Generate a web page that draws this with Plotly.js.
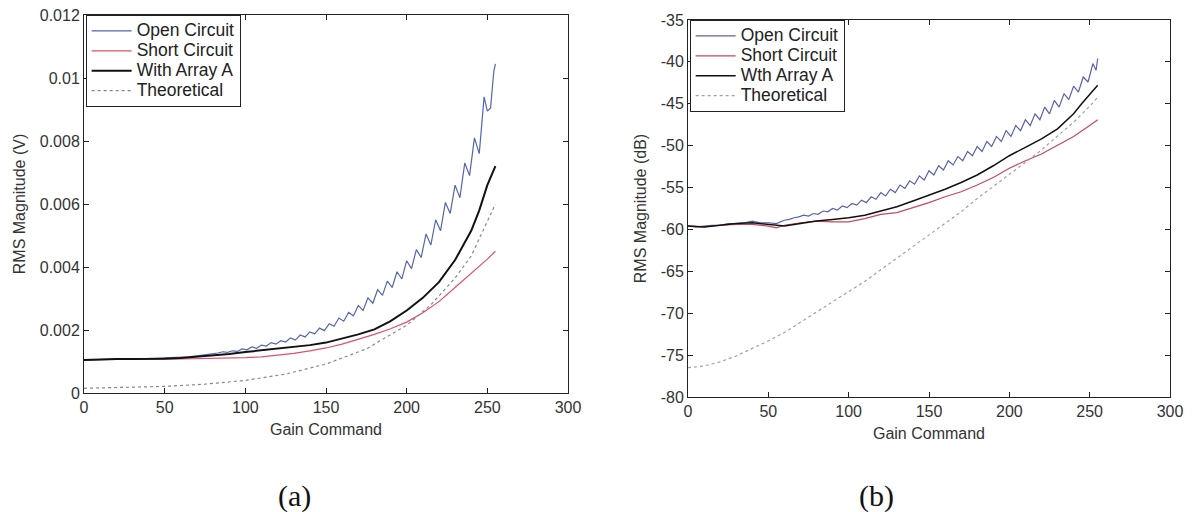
<!DOCTYPE html>
<html>
<head>
<meta charset="utf-8">
<script src="https://cdn.plot.ly/plotly-3.0.1.min.js"></script>
<style>html,body{margin:0;padding:0;background:#fff;}#chart{width:1198px;height:512px;}</style>
</head>
<body>
<div id="chart"></div>
<script>
// ---------- Panel (a): RMS magnitude in volts ----------
const openX_a = [0,5,10,15,20,25,30,35,40,45,50,55,60,65,70,75,80,83,86,89,92,95,98,101,104,107,110,113,116,119,122,125,128,131,134,137,140,143,146,149,152,155,158,161,164,167,170,173,176,179,182,185,188,191,194,197,200,203,206,209,212,215,218,221,224,227,230,233,236,239,242,245,248,250,252,254,255];
const openY_a = [0.00105,0.00106,0.00107,0.00107,0.00108,0.00108,0.00108,0.00109,0.00109,0.00109,0.00110,0.00111,0.00113,0.00115,0.00118,0.00121,0.00124,0.00127,0.00131,0.00129,0.00134,0.00132,0.00140,0.00137,0.00146,0.00142,0.00152,0.00149,0.00160,0.00155,0.00166,0.00162,0.00175,0.00168,0.00184,0.00178,0.00194,0.00188,0.00206,0.00198,0.00220,0.00212,0.00238,0.00228,0.00256,0.00245,0.00278,0.00262,0.00302,0.00285,0.00328,0.00310,0.00355,0.00335,0.00385,0.00362,0.00420,0.00395,0.00455,0.00430,0.00505,0.00470,0.00550,0.00515,0.00605,0.00570,0.00660,0.00620,0.00730,0.00690,0.00810,0.00760,0.00940,0.00895,0.00905,0.01020,0.01045];

const shortX_a = [0,20,40,60,80,90,100,110,120,130,140,150,160,170,180,190,200,210,220,230,240,245,250,255];
const shortY_a = [0.00105,0.00107,0.00108,0.00108,0.00109,0.00110,0.00112,0.00115,0.00120,0.00126,0.00134,0.00143,0.00155,0.00170,0.00186,0.00204,0.00225,0.00255,0.00290,0.00335,0.00380,0.00400,0.00425,0.00450];

const arrayX_a = [0,10,20,30,40,50,60,70,80,90,100,110,120,130,140,150,160,170,180,190,200,210,220,230,240,245,250,255];
const arrayY_a = [0.00105,0.00107,0.00108,0.00108,0.00108,0.00109,0.00111,0.00115,0.00119,0.00124,0.00130,0.00135,0.00140,0.00146,0.00152,0.00160,0.00172,0.00186,0.00202,0.00228,0.00262,0.00302,0.00352,0.00422,0.00515,0.00580,0.00660,0.00720];

const theoX_a = [0,25,50,75,100,125,150,175,200,215,230,240,250,255];
const theoY_a = [0.00015,0.00017,0.00021,0.00028,0.00040,0.00060,0.00092,0.00140,0.00215,0.00280,0.00365,0.00435,0.00545,0.00600];

const yTicks_a = [0,0.002,0.004,0.006,0.008,0.01,0.012];
const yTickText_a = ["0","0.002","0.004","0.006","0.008","0.01","0.012"];

// ---------- Panel (b): RMS magnitude in dB ----------
const openX_b = [0,5,10,15,20,25,30,35,40,45,50,55,60,63,66,69,72,75,78,81,84,87,90,93,96,99,102,105,108,111,114,117,120,123,126,129,132,135,138,141,144,147,150,153,156,159,162,165,168,171,174,177,180,183,186,189,192,195,198,201,204,207,210,213,216,219,222,225,228,231,234,237,240,243,246,249,252,254,255];
const openY_b = [-59.6,-59.7,-59.6,-59.5,-59.5,-59.3,-59.3,-59.2,-59.0,-59.2,-59.2,-59.3,-58.9,-58.8,-58.6,-58.5,-58.3,-58.4,-58.1,-58.2,-57.8,-57.9,-57.5,-57.7,-57.2,-57.4,-56.9,-57.1,-56.5,-56.8,-56.1,-56.4,-55.6,-56.0,-55.2,-55.6,-54.7,-55.1,-54.2,-54.6,-53.6,-54.1,-53.0,-53.5,-52.4,-52.9,-51.8,-52.3,-51.3,-51.8,-50.7,-51.2,-50.1,-50.7,-49.5,-50.1,-48.9,-49.5,-48.2,-48.9,-47.6,-48.2,-46.9,-47.6,-46.2,-46.9,-45.4,-46.2,-44.6,-45.4,-43.8,-44.5,-42.9,-43.6,-41.8,-42.4,-40.2,-41.0,-39.6];

const shortX_b = [0,10,20,30,40,50,55,60,70,80,90,100,110,120,130,140,150,160,170,180,190,200,210,220,230,240,250,255];
const shortY_b = [-59.6,-59.7,-59.5,-59.4,-59.4,-59.6,-59.8,-59.5,-59.2,-59.0,-59.1,-59.1,-58.7,-58.2,-58.0,-57.4,-56.8,-56.1,-55.5,-54.7,-53.8,-52.7,-51.8,-51.0,-50.0,-48.9,-47.6,-46.9];

const arrayX_b = [0,10,20,30,40,50,60,70,80,90,100,110,120,130,140,150,160,170,180,190,200,210,220,230,240,245,250,255];
const arrayY_b = [-59.6,-59.7,-59.5,-59.3,-59.2,-59.4,-59.6,-59.3,-59.0,-58.8,-58.6,-58.3,-57.8,-57.3,-56.6,-55.9,-55.2,-54.4,-53.5,-52.4,-51.2,-50.2,-49.2,-48.0,-46.2,-45.0,-43.9,-42.8];

const theoX_b = [0,10,20,30,40,50,60,70,80,90,100,110,120,130,140,150,160,170,180,190,200,210,220,230,240,250,255];
const theoY_b = [-76.5,-76.3,-75.8,-75.1,-74.2,-73.3,-72.3,-71.1,-69.8,-68.6,-67.4,-66.2,-64.8,-63.4,-62.0,-60.7,-59.3,-57.9,-56.3,-54.9,-53.5,-52.0,-50.5,-48.9,-47.2,-45.3,-44.2];

const xTicks = [0,50,100,150,200,250,300];
const yTicks_b = [-80,-75,-70,-65,-60,-55,-50,-45,-40,-35];
const yTickText_b = ["-80","-75","-70","-65","-60","-55","-50","-45","-40","-35"];

const legendNames_a = ["Open Circuit","Short Circuit","With Array A","Theoretical"];
const legendNames_b = ["Open Circuit","Short Circuit","Wth Array A","Theoretical"];

const FONT = "Liberation Sans, Arial, sans-serif";
const big = s => "<span style='font-size:17.5px'>" + s + "</span>";

const traces = [
  {x: openX_a, y: openY_a, name: big(legendNames_a[0]), mode: "lines", line: {color: "#5566b0", width: 1.2}, xaxis: "x", yaxis: "y", legend: "legend"},
  {x: shortX_a, y: shortY_a, name: big(legendNames_a[1]), mode: "lines", line: {color: "#e0506a", width: 1.2}, xaxis: "x", yaxis: "y", legend: "legend"},
  {x: arrayX_a, y: arrayY_a, name: big(legendNames_a[2]), mode: "lines", line: {color: "#111111", width: 2}, xaxis: "x", yaxis: "y", legend: "legend"},
  {x: theoX_a, y: theoY_a, name: big(legendNames_a[3]), mode: "lines", line: {color: "#888888", width: 1.2, dash: "dot"}, xaxis: "x", yaxis: "y", legend: "legend"},
  {x: openX_b, y: openY_b, name: big(legendNames_b[0]), mode: "lines", line: {color: "#5a62a8", width: 1.2}, xaxis: "x2", yaxis: "y2", legend: "legend2"},
  {x: shortX_b, y: shortY_b, name: big(legendNames_b[1]), mode: "lines", line: {color: "#c8485a", width: 1.2}, xaxis: "x2", yaxis: "y2", legend: "legend2"},
  {x: arrayX_b, y: arrayY_b, name: big(legendNames_b[2]), mode: "lines", line: {color: "#111111", width: 1.5}, xaxis: "x2", yaxis: "y2", legend: "legend2"},
  {x: theoX_b, y: theoY_b, name: big(legendNames_b[3]), mode: "lines", line: {color: "#a0a0a0", width: 1.2, dash: "dot"}, xaxis: "x2", yaxis: "y2", legend: "legend2"}
];

const axisCommon = {
  showline: true, linecolor: "#222", linewidth: 1, mirror: "ticks",
  ticks: "inside", ticklen: 5, tickcolor: "#222", showgrid: false, zeroline: false,
  tickfont: {family: FONT, size: 16, color: "#333"}
};

const legendCommon = {
  xanchor: "left", yanchor: "top", bgcolor: "#ffffff", bordercolor: "#222", borderwidth: 1,
  font: {family: FONT, size: 13, color: "#222"}, tracegroupgap: 0, itemwidth: 40
};

const layout = {
  width: 1198, height: 512,
  margin: {l: 84, r: 28, t: 15, b: 115},
  paper_bgcolor: "#ffffff", plot_bgcolor: "#ffffff",
  showlegend: true,
  xaxis: Object.assign({}, axisCommon, {domain: [0, 0.44567], range: [0, 300], tickvals: xTicks, anchor: "y",
    title: {text: "Gain Command", font: {family: FONT, size: 16, color: "#333"}, standoff: 8}}),
  yaxis: Object.assign({}, axisCommon, {domain: [0.01047, 1], range: [0, 0.012], tickvals: yTicks_a, ticktext: yTickText_a, anchor: "x",
    title: {text: "RMS Magnitude (V)", font: {family: FONT, size: 16, color: "#333"}, standoff: 10}}),
  xaxis2: Object.assign({}, axisCommon, {domain: [0.55617, 1], range: [0, 300], tickvals: xTicks, anchor: "y2",
    title: {text: "Gain Command", font: {family: FONT, size: 16, color: "#333"}, standoff: 8}}),
  yaxis2: Object.assign({}, axisCommon, {domain: [0, 0.98691], range: [-80, -35], tickvals: yTicks_b, ticktext: yTickText_b, anchor: "x2",
    title: {text: "RMS Magnitude (dB)", font: {family: FONT, size: 16, color: "#333"}, standoff: 10}}),
  legend: Object.assign({}, legendCommon, {x: 0.0015, y: 1.0}),
  legend2: Object.assign({}, legendCommon, {x: 0.5577, y: 0.9869}),
  annotations: [
    {text: "(a)", xref: "paper", yref: "paper", x: 0.1934, y: -0.259, xanchor: "center", yanchor: "middle", showarrow: false,
     font: {family: "Liberation Serif, DejaVu Serif, serif", size: 30, color: "#111"}},
    {text: "(b)", xref: "paper", yref: "paper", x: 0.7302, y: -0.259, xanchor: "center", yanchor: "middle", showarrow: false,
     font: {family: "Liberation Serif, DejaVu Serif, serif", size: 30, color: "#111"}}
  ]
};

Plotly.newPlot("chart", traces, layout, {displayModeBar: false, staticPlot: true});
</script>
</body>
</html>
